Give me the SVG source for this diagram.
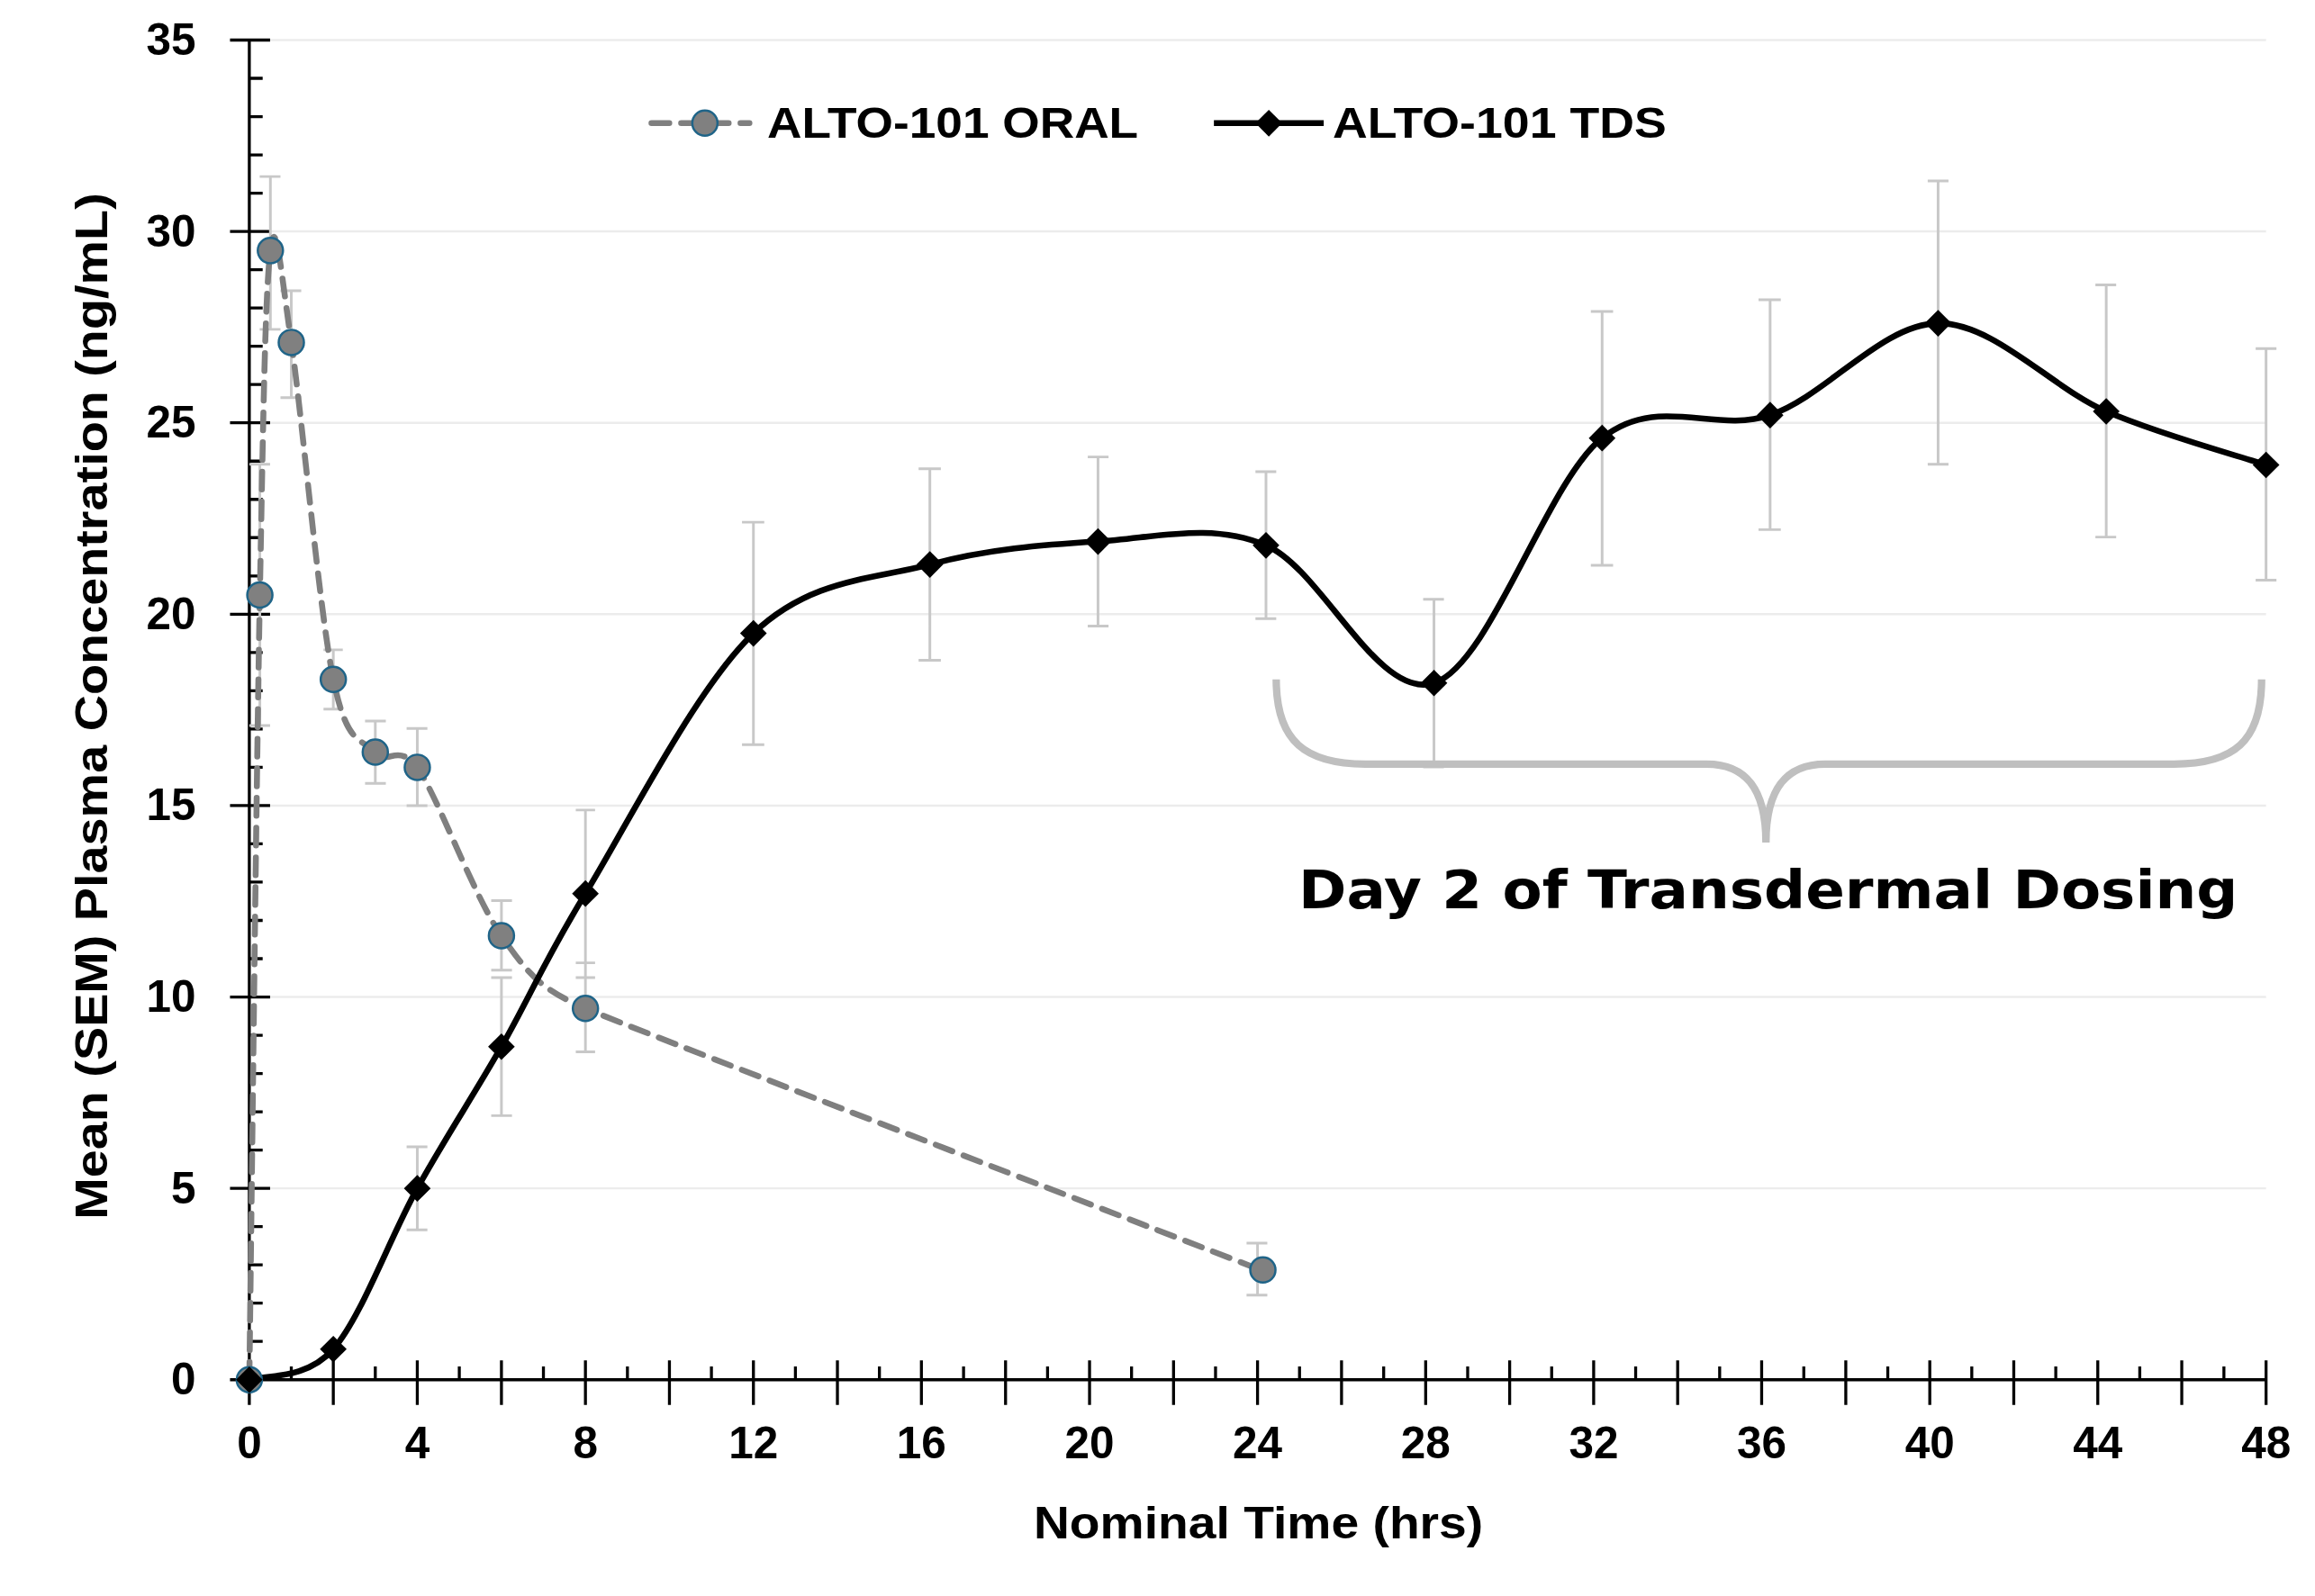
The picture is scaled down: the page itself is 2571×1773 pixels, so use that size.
<svg xmlns="http://www.w3.org/2000/svg" width="2571" height="1773" viewBox="0 0 2571 1773">
<style>
.t{font-family:"Liberation Sans Narrow","Liberation Sans",Arial,sans-serif;font-weight:bold;fill:#000}
.yl{font-size:30px;text-anchor:end}
.xl{font-size:30px;text-anchor:middle}
.g{stroke:#ececec;stroke-width:1.5}
.ax{stroke:#000;stroke-width:2;fill:none}
.eb{stroke:#c8c8c8;stroke-width:1.8;fill:none}
.oral{stroke:#7f7f7f;stroke-width:4;fill:none;stroke-dasharray:12 8;stroke-linecap:round}
.tds{stroke:#000;stroke-width:4;fill:none}
.om{fill:#808080;stroke:#1f6488;stroke-width:1.5}
</style>
<defs>
<circle id="oc" r="8.5" class="om"/>
<path id="dm" d="M0,-9 L9,0 L0,9 L-9,0Z" fill="#000"/>
</defs>
<rect width="2571" height="1773" fill="#fff"/>
<g transform="scale(1.6481)">
<g id="grid">
<line class="g" x1="168" y1="801" x2="1527" y2="801"/>
<line class="g" x1="168" y1="672" x2="1527" y2="672"/>
<line class="g" x1="168" y1="543" x2="1527" y2="543"/>
<line class="g" x1="168" y1="414" x2="1527" y2="414"/>
<line class="g" x1="168" y1="285" x2="1527" y2="285"/>
<line class="g" x1="168" y1="156" x2="1527" y2="156"/>
<line class="g" x1="168" y1="27" x2="1527" y2="27"/>
</g>
<g id="axes">
<path class="ax" d="M168,27V930H1527"/>
<path class="ax" d="M155,27H182M155,156H182M155,285H182M155,414H182M155,543H182M155,672H182M155,801H182M155,930H168
M168,52.8h9M168,78.6h9M168,104.4h9M168,130.2h9M168,181.8h9M168,207.6h9M168,233.4h9M168,259.2h9M168,310.8h9M168,336.6h9M168,362.4h9M168,388.2h9M168,439.8h9M168,465.6h9M168,491.4h9M168,517.2h9M168,568.8h9M168,594.6h9M168,620.4h9M168,646.2h9M168,697.8h9M168,723.6h9M168,749.4h9M168,775.2h9M168,826.8h9M168,852.6h9M168,878.4h9M168,904.2h9"/>
<path class="ax" d="M168,917V947M224.6,917V947M281.2,917V947M337.9,917V947M394.5,917V947M451.1,917V947M507.7,917V947M564.3,917V947M620.9,917V947M677.6,917V947M734.2,917V947M790.8,917V947M847.4,917V947M904,917V947M960.7,917V947M1017.3,917V947M1073.9,917V947M1130.5,917V947M1187.1,917V947M1243.8,917V947M1300.4,917V947M1357,917V947M1413.6,917V947M1470.2,917V947M1527,917V947
M196.3,921V930M252.9,921V930M309.5,921V930M366.2,921V930M422.8,921V930M479.4,921V930M536,921V930M592.6,921V930M649.3,921V930M705.9,921V930M762.5,921V930M819.1,921V930M875.7,921V930M932.4,921V930M989,921V930M1045.6,921V930M1102.2,921V930M1158.8,921V930M1215.5,921V930M1272.1,921V930M1328.7,921V930M1385.3,921V930M1441.9,921V930M1498.6,921V930"/>
<text class="t yl" x="132" y="37">35</text>
<text class="t yl" x="132" y="166">30</text>
<text class="t yl" x="132" y="295">25</text>
<text class="t yl" x="132" y="424">20</text>
<text class="t yl" x="132" y="553">15</text>
<text class="t yl" x="132" y="682">10</text>
<text class="t yl" x="132" y="811">5</text>
<text class="t yl" x="132" y="940">0</text>
<text class="t xl" x="168" y="983">0</text>
<text class="t xl" x="281.2" y="983">4</text>
<text class="t xl" x="394.5" y="983">8</text>
<text class="t xl" x="507.7" y="983">12</text>
<text class="t xl" x="620.9" y="983">16</text>
<text class="t xl" x="734.2" y="983">20</text>
<text class="t xl" x="847.4" y="983">24</text>
<text class="t xl" x="960.7" y="983">28</text>
<text class="t xl" x="1073.9" y="983">32</text>
<text class="t xl" x="1187.1" y="983">36</text>
<text class="t xl" x="1300.4" y="983">40</text>
<text class="t xl" x="1413.6" y="983">44</text>
<text class="t xl" x="1527" y="983">48</text>
<text class="t" x="848" y="1037" font-size="30" text-anchor="middle" textLength="303" lengthAdjust="spacingAndGlyphs">Nominal Time (hrs)</text>
<text class="t" transform="translate(72,476) rotate(-90)" font-size="30" text-anchor="middle" textLength="692" lengthAdjust="spacingAndGlyphs">Mean (SEM) Plasma Concentration (ng/mL)</text>
</g>
<g id="errorbars">
<path class="eb" d="M175.1,313V489M168,313H182M168,489H182
M182.2,119V222M175,119H189M175,222H189
M196.3,196V268M189,196H203M189,268H203
M224.6,438V478M218,438H231M218,478H231
M252.9,486V528M246,486H260M246,528H260
M281.2,491V543M274,491H288M274,543H288
M337.9,607V654M331,607H345M331,654H345
M394.5,649V709M388,649H401M388,709H401
M847.4,838V873M840,838H854M840,873H854
M281.2,773V829M274,773H288M274,829H288
M337.9,659V752M331,659H345M331,752H345
M394.5,546V659M388,546H401M388,659H401
M507.7,352V502M500,352H515M500,502H515
M626.6,316V445M619,316H634M619,445H634
M739.9,308V422M733,308H747M733,422H747
M853.1,318V417M846,318H860M846,417H860
M966.3,404V517M959,404H973M959,517H973
M1079.6,210V381M1072,210H1087M1072,381H1087
M1192.8,202V357M1185,202H1200M1185,357H1200
M1306,122V313M1299,122H1313M1299,313H1313
M1419.3,192V362M1412,192H1426M1412,362H1426
M1527,235V391M1520,235H1534M1520,391H1534"/>
</g>
<g id="connectors">
<path class="oral" d="M168,930 C169.2,841.9 172.7,528 175.1,401.1 C177.5,274.2 178.7,197.3 182.2,168.9 C185.7,140.5 189.2,182.6 196.3,230.8 C203.4,279 215.2,411.9 224.6,457.9 C234,503.9 243.5,497 252.9,506.9 C262.3,516.8 267,500 281.2,517.2 C295.4,537.8 319,603.6 337.9,630.7 C356.8,657.8 364.5,666.7 394.5,679.7 C424.5,692.7 771.9,825.9 847.4,855.2"/>
<path class="tds" d="M168,930 C177.4,926.6 205.7,930.9 224.6,909.4 C243.5,887.9 262.3,835 281.2,801 C300.1,767 319,738.6 337.9,705.5 C356.8,672.4 366.2,648.7 394.5,602.3 C422.8,555.9 469,463.9 507.7,426.9 C546.4,389.9 587.9,390.8 626.6,380.5 C665.3,370.2 702.1,367.2 739.9,365 C777.7,362.8 815.4,351.7 853.1,367.6 C890.8,383.5 928.5,472.5 966.3,460.4 C1004.1,448.3 1041.8,325.4 1079.6,295.3 C1117.4,265.2 1155.1,292.7 1192.8,279.8 C1230.5,266.9 1268.3,218.3 1306,217.9 C1343.7,217.5 1382.5,261.4 1419.3,277.3 C1456.1,293.2 1509.1,307.4 1527,313.4"/>
</g>
<g id="oral-markers">
<use href="#oc" x="168" y="930"/><use href="#oc" x="175.1" y="401.1"/><use href="#oc" x="182.2" y="168.9"/><use href="#oc" x="196.3" y="230.8"/><use href="#oc" x="224.6" y="457.9"/><use href="#oc" x="252.9" y="506.9"/><use href="#oc" x="281.2" y="517.2"/><use href="#oc" x="337.9" y="630.7"/><use href="#oc" x="394.5" y="679.7"/><use href="#oc" x="851" y="856"/>
</g>
<g id="tds-markers">
<use href="#dm" x="168" y="930"/><use href="#dm" x="224.6" y="909.4"/><use href="#dm" x="281.2" y="801"/><use href="#dm" x="337.9" y="705.5"/><use href="#dm" x="394.5" y="602.3"/><use href="#dm" x="507.7" y="426.9"/><use href="#dm" x="626.6" y="380.5"/><use href="#dm" x="739.9" y="365"/><use href="#dm" x="853.1" y="367.6"/><use href="#dm" x="966.3" y="460.4"/><use href="#dm" x="1079.6" y="295.3"/><use href="#dm" x="1192.8" y="279.8"/><use href="#dm" x="1306" y="217.9"/><use href="#dm" x="1419.3" y="277.3"/><use href="#dm" x="1527" y="313.4"/>
</g>
<g id="legend">
<line class="oral" x1="439" y1="83" x2="505" y2="83"/>
<use href="#oc" x="475" y="83"/>
<text class="t" x="517" y="93" font-size="29" textLength="250" lengthAdjust="spacingAndGlyphs">ALTO-101 ORAL</text>
<line class="tds" x1="818" y1="83" x2="892" y2="83"/>
<use href="#dm" x="855" y="83"/>
<text class="t" x="898" y="93" font-size="29" textLength="225" lengthAdjust="spacingAndGlyphs">ALTO-101 TDS</text>
</g>
<g id="brace">
<path d="M860,458 C860,500 880,515 920,515 H1150 C1175,515 1190,530 1190,568 C1190,530 1205,515 1230,515 H1465 C1505,515 1524,500 1524,458" fill="none" stroke="#bfbfbf" stroke-width="5"/>
<text x="875" y="612" font-family="'DejaVu Sans',sans-serif" font-weight="bold" font-size="36" textLength="633" lengthAdjust="spacingAndGlyphs">Day 2 of Transdermal Dosing</text>
</g>
</g>
</svg>
